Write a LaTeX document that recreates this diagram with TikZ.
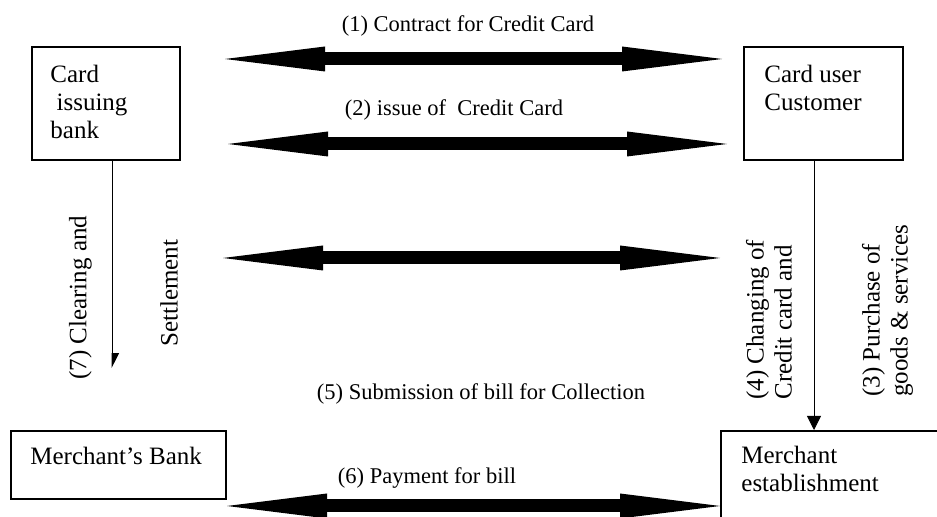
\documentclass[tikz,border=0pt]{standalone}
\usepackage{fontspec}
\setmainfont{Liberation Serif}
\usetikzlibrary{arrows.meta,positioning}

\begin{document}
\begin{tikzpicture}[x=0.5pt, y=-0.5pt,
  box/.style={draw, rectangle, line width=1pt, inner sep=0pt},
  boxtext/.style={inner sep=0pt, align=left, font=\fontsize{12.5}{14}\selectfont},
  lbl/.style={inner sep=0pt, anchor=base, font=\fontsize{11.25}{13}\selectfont},
  side/.style={inner sep=0pt, rotate=90, anchor=west, align=left,
               font=\fontsize{12.5}{14}\selectfont},
  dbl/.style={line width=6.5pt,
              {Triangle[length=50pt,width=12.5pt,line width=0pt]}-{Triangle[length=50pt,width=12.5pt,line width=0pt]}},
  flow/.style={line width=0.4pt}
]
  \path[use as bounding box, clip] (0,0) rectangle (937,517);

  % parties
  \node[box, minimum width=74pt,    minimum height=56.5pt] (cib)   at (106,103.5)   {};
  \node[box, minimum width=79.5pt,  minimum height=56.5pt] (cust)  at (823.5,103.5) {};
  \node[box, minimum width=107.5pt, minimum height=34pt]   (mbank) at (118.5,465)   {};
  \node[box, minimum width=119.5pt, minimum height=57pt]   (mest)  at (840.5,488)   {};

  \node[boxtext, anchor=north west] (cibtext)   at (50,65)   {Card\\\hspace*{0.25em}issuing\\bank};
  \node[boxtext, anchor=north west] (custtext)  at (764,65)  {Card user\\Customer};
  \node[boxtext, anchor=base west]  (mbanktext) at (30,465)  {Merchant’s Bank};
  \node[boxtext, anchor=north west] (mesttext)  at (741,446) {Merchant\\establishment};

  % ends of the double arrows
  \coordinate (contractl) at (225,59);  \coordinate (contractr) at (722,59);
  \coordinate (issuel)    at (228,144); \coordinate (issuer)    at (727,144);
  \coordinate (billl)     at (223,258); \coordinate (billr)     at (720,258);
  \coordinate (payl)      at (227,506);

  \draw[dbl] (contractl) -- (contractr);
  \draw[dbl] (issuel) -- (issuer);
  \draw[dbl] (billl) -- (billr);
  \draw[dbl] (payl) -- (mest.west |- payl);

  \node[lbl] (contract) at (468,32)  {(1) Contract for Credit Card};
  \node[lbl] (issue)    at (454,116) {(2) issue of\ \ Credit Card};
  \node[lbl] (submit)   at (481,400) {(5) Submission of bill for Collection};
  \node[lbl] (payment)  at (427,484) {(6) Payment for bill};

  % vertical flows
  \coordinate (clearend) at (112,368);
  \coordinate (buyx)     at (814,0);
  \draw[flow, -{Triangle[harpoon, length=7pt, width=7pt]}] (cib.south -| clearend) -- (clearend);
  \draw[flow, -{Triangle[length=7pt, width=7pt]}] (cust.south -| buyx) -- (mest.north -| buyx);

  \node[side] (clearing)   at (80.5,380) {(7) Clearing and};
  \node[side] (settlement) at (169,347)  {Settlement};
  \node[side] (charging)   at (769,400)  {(4) Changing of\\Credit card and};
  \node[side] (purchase)   at (887.5,397) {(3) Purchase of\\goods \& services};

\end{tikzpicture}
\end{document}
